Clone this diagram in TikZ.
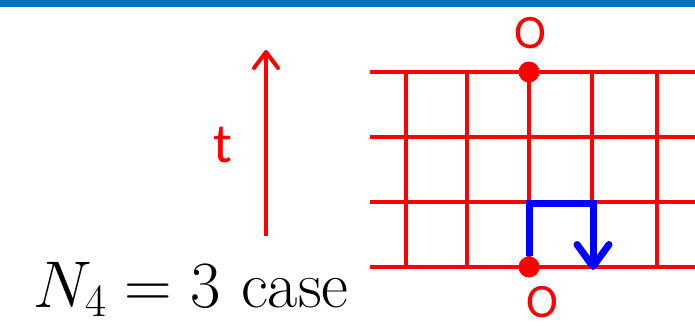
\RequirePackage{fix-cm}
\documentclass[tikz,border=0pt]{standalone}
\usepackage{fontspec}
\newfontfamily\labelfont{Carlito}
\usetikzlibrary{positioning,arrows.meta,calc}
\definecolor{barblue}{HTML}{0070C0}

\begin{document}
\begin{tikzpicture}[
    x=1pt, y=1pt,
    gridline/.style={draw=red, line width=4pt},
    dot/.style={circle, fill=red, inner sep=0pt, minimum size=21pt},
    lbl/.style={text=red, font=\labelfont\fontsize{48}{54}\selectfont, inner sep=0pt},
    path/.style={draw=blue, line width=7pt, -{Straight Barb[length=22pt, width=32pt, round]}}
]
\useasboundingbox (0,0) rectangle (695,325);
% Header bar
\fill[barblue] (0,318) rectangle (695,325);

% Lattice
\foreach \y in {58,123,188,253}
    \draw[gridline] (370,\y) -- (695,\y);
\foreach \x in {406,467,529,592,657}
    \draw[gridline] (\x,58) -- (\x,253);

% End points
\node[dot] (top) at (529,253) {};
\node[dot] (bot) at (529,58) {};
\node[lbl] (topO) at (530,292) {O};
\node[lbl] (botO) at (542,23) {O};

% Time axis
\coordinate (tlow) at (266,89);
\coordinate (thigh) at (266,275);
\draw[red, line width=4pt, -{Straight Barb[length=16pt, width=24pt, round]}] (tlow) -- (thigh);
\node[lbl, font=\labelfont\fontsize{56}{60}\selectfont] (tlab) at (223,180) {t};

% Walk
\coordinate (turnA) at (529,122);
\coordinate (turnB) at (593,122);
\coordinate (walkend) at (593,55);
\draw[path] (bot.north) -- (turnA) -- (turnB) -- (walkend);

% Caption
\node[anchor=base west, inner sep=0pt, font=\fontsize{66}{76}\selectfont] (cap) at (33,18) {$N_4 = 3$ case};
\end{tikzpicture}
\end{document}
